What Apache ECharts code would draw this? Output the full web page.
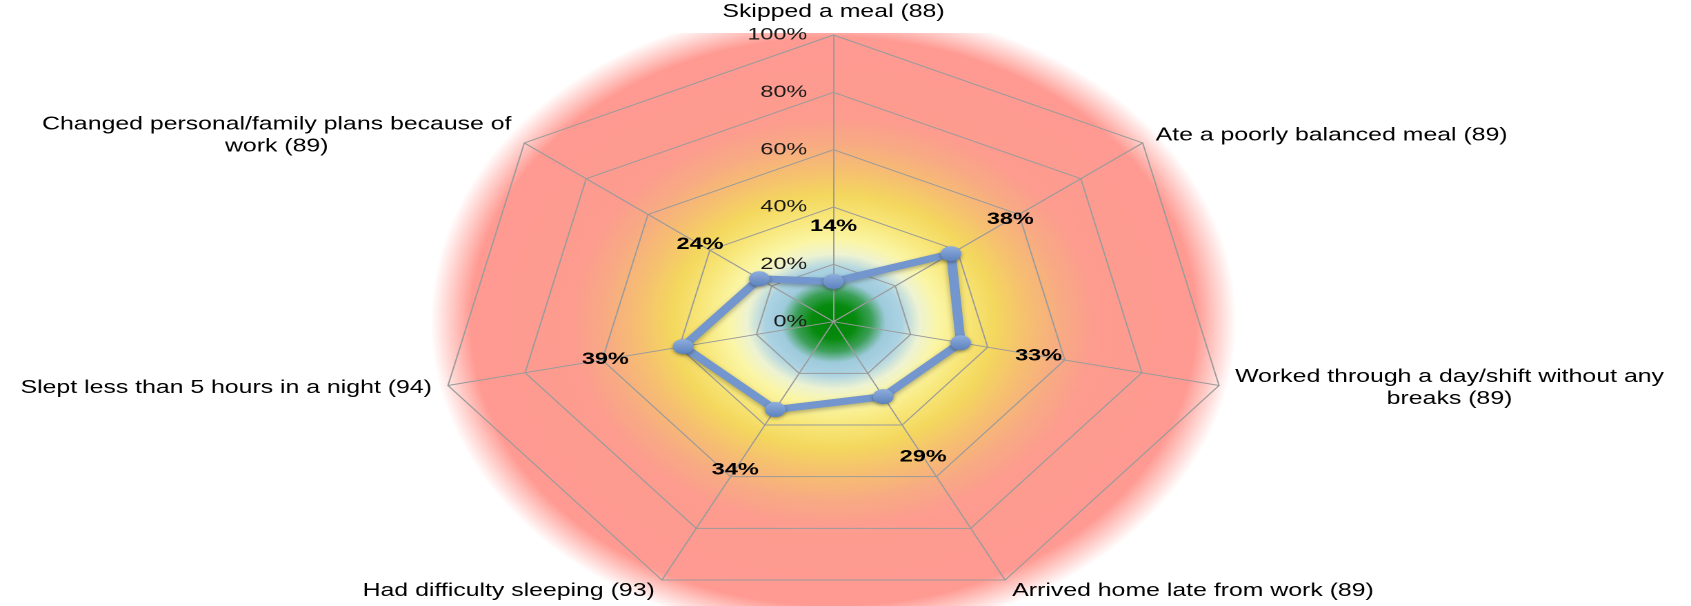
<!DOCTYPE html>
<html>
<head>
<meta charset="utf-8">
<title>Radar</title>
<script src="https://cdn.jsdelivr.net/npm/echarts@6/dist/echarts.min.js"></script>
<style>
html, body { margin: 0; padding: 0; background: #fff; overflow: hidden; }
/* the original picture is stretched sideways, so draw narrow and stretch the whole chart */
#chart { width: 1226px; height: 606px; transform: scaleX(1.37928); transform-origin: 0 0; }
</style>
</head>
<body>
<div id="chart"></div>
<script>
// indicators in ECharts radar order (counter-clockwise, starting at the top)
var indicatorNames = [
    'Skipped a meal (88)',
    'Changed personal/family plans because of\nwork (89)',
    'Slept less than 5 hours in a night (94)',
    'Had difficulty sleeping (93)',
    'Arrived home late from work (89)',
    'Worked through a day/shift without any\nbreaks (89)',
    'Ate a poorly balanced meal (89)'
];
var shares = [14, 24, 39, 34, 29, 33, 38];
var axisMax = 100;
var ringCount = 5;

var FONT = '"Liberation Sans", Arial, Helvetica, sans-serif';
var CX = 604.3, CY = 321.7, R = 286.7;

var chart = echarts.init(document.getElementById('chart'), null, { devicePixelRatio: 2 });

var glow = new echarts.graphic.RadialGradient(0.5, 0.5, 0.5, [
    { offset: 0, color: '#00820a' },
    { offset: 0.055, color: '#078b0e' },
    { offset: 0.095, color: '#3da05a' },
    { offset: 0.13, color: '#9ecbdc' },
    { offset: 0.17, color: '#acd3e3' },
    { offset: 0.215, color: '#eef3d2' },
    { offset: 0.26, color: '#fbf6a6' },
    { offset: 0.33, color: '#f8e77a' },
    { offset: 0.40, color: '#f4d85e' },
    { offset: 0.48, color: '#f6c070' },
    { offset: 0.57, color: '#f8aa84' },
    { offset: 0.65, color: '#fd9c8f' },
    { offset: 0.90, color: '#ff9a92' },
    { offset: 1, color: '#ffffff' }
]);

var markerFill = new echarts.graphic.LinearGradient(0, 0, 0, 1, [
    { offset: 0, color: '#8eaede' },
    { offset: 1, color: '#5d82bd' }
]);

chart.setOption({
    animation: false,
    backgroundColor: '#fff',
    graphic: [
        {
            type: 'circle', z: -10, silent: true,
            x: CX, y: CY, scaleY: 1.08,
            shape: { cx: 0, cy: 0, r: 292 },
            style: { fill: glow }
        },
        {
            type: 'rect', z: -10, silent: true,
            shape: { x: 0, y: 0, width: 1226, height: 33 },
            style: { fill: '#fff' }
        }
    ],
    radar: {
        center: [CX, CY],
        radius: R,
        startAngle: 90,
        splitNumber: ringCount,
        shape: 'polygon',
        nameGap: 12,
        indicator: indicatorNames.map(function (n, i) {
            var ind = { name: n, min: 0, max: axisMax };
            if (i === 0) {
                ind.axisLabel = { show: true };
            }
            return ind;
        }),
        axisName: {
            color: '#000',
            fontSize: 18,
            fontFamily: FONT,
            formatter: function (name) {
                return name.split('\n').map(function (s) { return '{c|' + s + '}'; }).join('\n');
            },
            rich: {
                c: { align: 'center', color: '#000', fontSize: 18, fontFamily: FONT, lineHeight: 22 }
            }
        },
        axisLine: { lineStyle: { color: '#9b9b9b', width: 1 } },
        splitLine: { lineStyle: { color: '#9b9b9b', width: 1 } },
        splitArea: { show: false },
        axisTick: { show: false },
        axisLabel: {
            show: false,
            formatter: '{value}%',
            color: '#1a1a1a',
            fontSize: 17,
            fontFamily: FONT,
            margin: 19
        }
    },
    series: [{
        type: 'radar',
        symbol: 'circle',
        symbolSize: 15,
        lineStyle: {
            color: '#7296cd', width: 7,
            shadowBlur: 4, shadowColor: 'rgba(0,0,0,0.3)', shadowOffsetY: 2
        },
        itemStyle: {
            color: markerFill,
            shadowBlur: 3, shadowColor: 'rgba(0,0,0,0.35)', shadowOffsetY: 1.5
        },
        label: {
            show: true,
            position: 'inside',
            formatter: function (p) { return p.value + '%'; },
            color: '#000',
            fontWeight: 'bold',
            fontSize: 17,
            fontFamily: FONT
        },
        // push each value label outward along its spoke
        labelLayout: function (p) {
            var r = p.rect;
            var x = r.x + r.width / 2 - CX;
            var y = r.y + r.height / 2 - CY;
            var len = Math.sqrt(x * x + y * y) || 1;
            var ux = x / len, uy = y / len;
            var d = 55 + 13 * Math.max(0, uy);
            return { dx: ux * d, dy: uy * d };
        },
        data: [{ name: 'Share of respondents', value: shares }]
    }]
});
</script>
</body>
</html>
